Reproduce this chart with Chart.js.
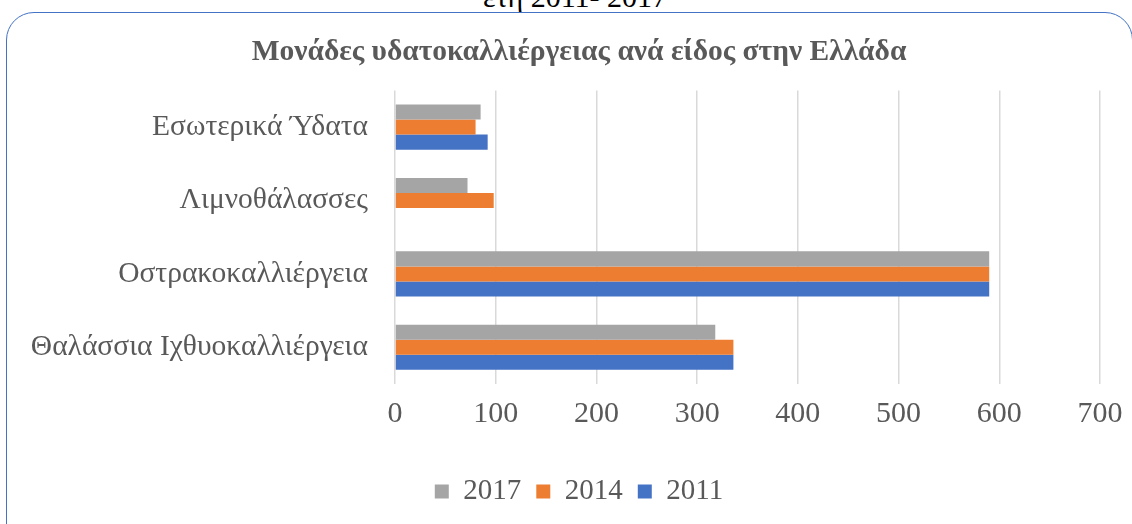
<!DOCTYPE html>
<html>
<head>
    <title>Μονάδες υδατοκαλλιέργειας</title>
    <script src="https://cdn.jsdelivr.net/npm/chart.js"></script>
    <style>
        body { margin: 0; background: #fff; width: 1132px; height: 524px; overflow: hidden; position: relative; }
        #caption { position: absolute; top: -20px; left: 0; width: 1150px; text-align: center;
                   font-family: "Liberation Serif", serif; font-size: 30px; color: #000; }
        #frame { position: absolute; left: 6px; top: 12px; width: 1125px; height: 540px;
                 border: 1.5px solid #4472C4; border-radius: 28px; }
        #wrap { position: absolute; left: 0; top: 0; width: 1132px; height: 524px; }
    </style>
</head>
<body>
<div id="caption">ετη 2011- 2017</div>
<div id="frame"></div>
<div id="wrap"><canvas id="fishChart" width="1132" height="524"></canvas></div>
<script>
var categories = ['Εσωτερικά Ύδατα', 'Λιμνοθάλασσες', 'Οστρακοκαλλιέργεια', 'Θαλάσσια Ιχθυοκαλλιέργεια'];
var years = ['2017', '2014', '2011'];
var values2017 = [85, 72, 590, 318];
var values2014 = [80, 98, 590, 336];
var values2011 = [92, 0, 590, 336];
var xTicks = [0, 100, 200, 300, 400, 500, 600, 700];

var serif = '"Liberation Serif", "Times New Roman", serif';
var textGray = '#595959';

var ctx = document.getElementById('fishChart').getContext('2d');
window.myChart = new Chart(ctx, {
    type: 'bar',
    data: {
        labels: categories,
        datasets: [
            { label: years[0], data: values2017, backgroundColor: '#A5A5A5' },
            { label: years[1], data: values2014, backgroundColor: '#ED7D31' },
            { label: years[2], data: values2011, backgroundColor: '#4472C4' }
        ]
    },
    options: {
        indexAxis: 'y',
        responsive: false,
        animation: false,
        categoryPercentage: 0.615,
        barPercentage: 1,
        layout: { padding: { left: 26, right: 0, top: 0, bottom: 8 } },
        plugins: {
            tooltip: { enabled: false },
            title: {
                display: true,
                text: 'Μονάδες υδατοκαλλιέργειας ανά είδος στην Ελλάδα',
                color: textGray,
                font: { family: serif, size: 29.5, weight: 'bold' },
                padding: { top: 35, bottom: 20 }
            },
            legend: {
                position: 'bottom',
                labels: {
                    color: textGray,
                    font: { family: serif, size: 29 },
                    boxWidth: 14,
                    boxHeight: 14,
                    padding: 15
                }
            }
        },
        scales: {
            x: {
                min: 0,
                max: 700,
                afterBuildTicks: function(scale) {
                    scale.ticks = xTicks.map(function(v) { return { value: v }; });
                },
                afterFit: function(scale) {
                    scale.height = 78;
                    scale.paddingLeft = 0;
                    scale.paddingRight = 32;
                },
                grid: { color: '#D9D9D9', lineWidth: 1.5, drawTicks: false },
                border: { display: false },
                ticks: { color: textGray, padding: 12, font: { family: serif, size: 30 } }
            },
            y: {
                afterFit: function(scale) { scale.width = 369; },
                grid: { display: false },
                border: { display: false },
                ticks: { color: textGray, padding: 19, font: { family: serif, size: 29.5 } }
            }
        }
    }
});
</script>
</body>
</html>
